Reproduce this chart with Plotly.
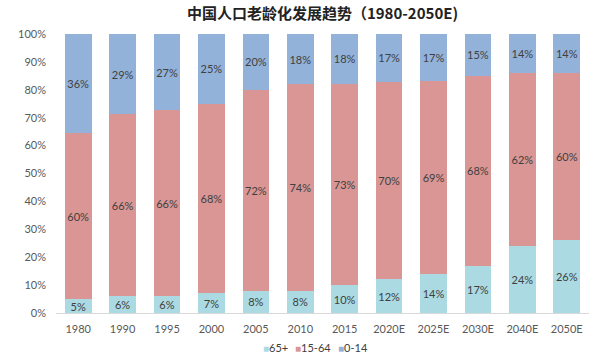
import plotly.graph_objects as go

categories = ["1980", "1990", "1995", "2000", "2005", "2010", "2015",
              "2020E", "2025E", "2030E", "2040E", "2050E"]
age_65_plus = [5, 6, 6, 7, 8, 8, 10, 12, 14, 17, 24, 26]
age_15_64 = [60, 66, 66, 68, 72, 74, 73, 70, 69, 68, 62, 60]
age_0_14 = [36, 29, 27, 25, 20, 18, 18, 17, 17, 15, 14, 14]

series = [
    ("65+", age_65_plus, "#ABDAE3"),
    ("15-64", age_15_64, "#D99694"),
    ("0-14", age_0_14, "#93B2DA"),
]

FONT = "Lato, Open Sans, sans-serif"

fig = go.Figure()
for name, vals, color in series:
    fig.add_trace(go.Bar(
        x=categories, y=vals, name=name,
        marker=dict(color=color, line=dict(width=0)),
        text=[f"{v}%" for v in vals],
        textposition="inside", insidetextanchor="middle", textangle=0,
        constraintext="none",
        textfont=dict(color="#404040", size=11, family=FONT),
        hoverinfo="skip", showlegend=False,
    ))

legend_x = [0.385, 0.445, 0.525]
annotations = [
    dict(text=f"<span style='color:{c}; font-size:10px'>■</span>{n}",
         x=lx, xref="paper", xanchor="left",
         y=-0.125, yref="paper", yanchor="middle", showarrow=False,
         font=dict(size=11, color="#404040", family=FONT))
    for (n, _, c), lx in zip(series, legend_x)
]

fig.update_layout(
    barmode="stack", barnorm="percent", bargap=0.4,
    width=597, height=363,
    margin=dict(l=56, r=8, t=34, b=50, autoexpand=False),
    paper_bgcolor="white", plot_bgcolor="white",
    title=dict(text="<b>中国人口老龄化发展趋势（1980-2050E)</b>",
               x=0.5, xanchor="center", xref="paper",
               y=1 - 14 / 363, yref="container", yanchor="middle",
               font=dict(family="Noto Sans CJK SC", size=15, color="#222222")),
    font=dict(family=FONT, size=11, color="#595959"),
    showlegend=False,
    annotations=annotations,
)
fig.update_yaxes(range=[0, 100], tickvals=list(range(0, 101, 10)),
                 ticktext=[f"{v}%" for v in range(0, 101, 10)],
                 showgrid=False, zeroline=False, showline=False, ticks="",
                 ticklabelstandoff=9, automargin=False)
fig.update_xaxes(showline=True, linecolor="#D9D9D9", linewidth=1, ticks="",
                 showgrid=False, automargin=False, ticklabelstandoff=6,
                 tickfont=dict(size=11, color="#595959"))

fig.write_html("out.html", config={"displayModeBar": False},
               post_script="document.body.style.margin='0';")
